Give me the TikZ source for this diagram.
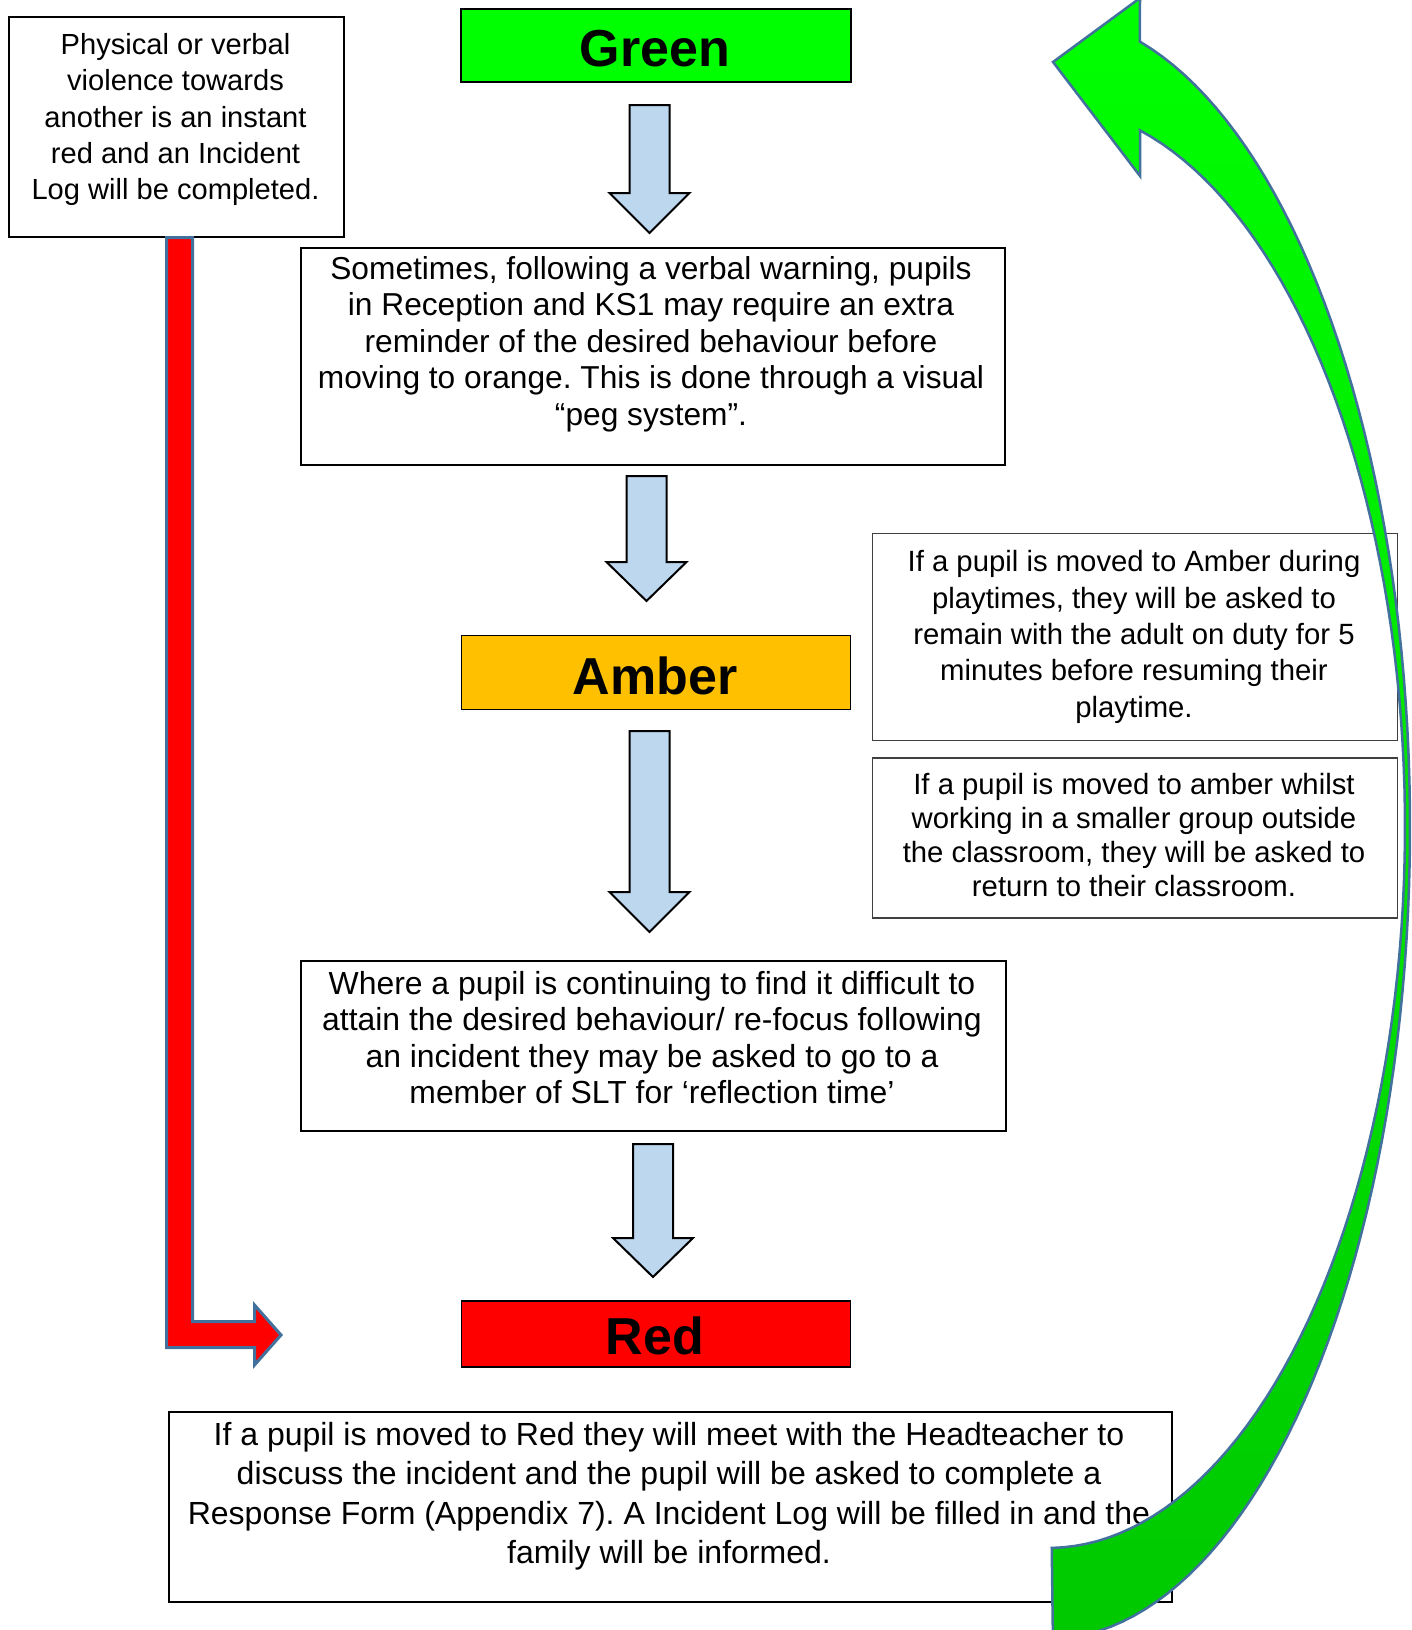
\documentclass[tikz,border=0pt]{standalone}
\usepackage{fontspec}
\setmainfont{Liberation Sans}
\frenchspacing
\newcommand\myfs[2]{\fontsize{#1pt}{#2pt}\selectfont}
\definecolor{boxgreen}{RGB}{0,255,0}
\definecolor{boxamber}{RGB}{255,192,0}
\definecolor{boxred}{RGB}{255,0,0}
\definecolor{arrowfill}{RGB}{189,215,238}
\definecolor{steel}{RGB}{65,113,156}
\definecolor{greentop}{RGB}{0,255,0}
\definecolor{greenbot}{RGB}{0,200,0}
\begin{document}
\begin{tikzpicture}[x=1pt,y=-1pt,
  box/.style={draw=black, line width=2pt, inner sep=0pt, anchor=north west, fill=white},
  sidebox/.style={draw=black!75, line width=1.5pt, inner sep=0pt, anchor=north west, fill=white},
  titlebox/.style={draw=black, line width=1.5pt, inner sep=0pt, anchor=north west},
  txt/.style={align=center, inner sep=0pt},
  ttl/.style={inner sep=0pt, font=\bfseries\myfs{52}{60}},
  blockarrow/.style={fill=arrowfill, draw=black, line width=2pt, line join=miter},
  redarrow/.style={fill=boxred, draw=steel, line width=3pt, line join=miter},
  greenarrow/.style={top color=greentop, bottom color=greenbot, draw=steel, line width=2.5pt, line join=miter}]
\useasboundingbox (0,0) rectangle (1411,1630);
\fill[white] (0,0) rectangle (1411,1630);

% boxes
\node[box, minimum width=335pt, minimum height=220pt] (viol) at (8,16) {};
\node[titlebox, fill=boxgreen, minimum width=390pt, minimum height=73pt] (green) at (460,8) {};
\node[box, minimum width=704pt, minimum height=217pt] (peg) at (299.5,246.5) {};
\node[titlebox, fill=boxamber, minimum width=389pt, minimum height=74pt] (amber) at (460.5,634.5) {};
\node[sidebox, minimum width=525pt, minimum height=207pt] (play) at (871.5,532.5) {};
\node[sidebox, minimum width=525pt, minimum height=160pt] (group) at (871.5,757) {};
\node[box, minimum width=705pt, minimum height=170pt] (slt) at (299.5,960) {};
\node[titlebox, fill=boxred, minimum width=389pt, minimum height=66pt] (red) at (460.5,1300) {};
\node[box, minimum width=1003pt, minimum height=190pt] (head) at (167.5,1411) {};

% texts
\node[txt, font=\myfs{29.1}{36.1}] (violt) at (175.5,119.5) {Physical or verbal\\violence towards\\another is an instant\\red and an Incident\\Log will be completed.};
\node[ttl] (greent) at (655,49) {Green};
\node[txt, font=\myfs{31.7}{36.4}] (pegt) at (651,344) {Sometimes, following a verbal warning, pupils\\in Reception and KS1 may require an extra\\reminder of the desired behaviour before\\moving to orange. This is done through a visual\\“peg system”.};
\node[ttl] (ambert) at (655,676) {Amber};
\node[txt, font=\myfs{29.3}{36.4}] (playt) at (1134,637) {If a pupil is moved to Amber during\\playtimes, they will be asked to\\remain with the adult on duty for 5\\minutes before resuming their\\playtime.};
\node[txt, font=\myfs{29.3}{34.3}] (groupt) at (1134,835) {If a pupil is moved to amber whilst\\working in a smaller group outside\\the classroom, they will be asked to\\return to their classroom.};
\node[txt, font=\myfs{31.9}{36.4}] (sltt) at (652,1037.5) {Where a pupil is continuing to find it difficult to\\attain the desired behaviour/ re-focus following\\an incident they may be asked to go to a\\member of SLT for ‘reflection time’};
\node[ttl] (redt) at (655,1336) {Red};
\node[txt, font=\myfs{32}{39.5}] (headt) at (669,1496) {If a pupil is moved to Red they will meet with the Headteacher to\\discuss the incident and the pupil will be asked to complete a\\Response Form (Appendix 7). A Incident Log will be filled in and the\\family will be informed.};

% block arrows
\newcommand\dnarrow[4]{% cx, top, base, tip
  \draw[blockarrow] (#1-20,#2) -- (#1+20,#2) -- (#1+20,#3) -- (#1+40,#3) -- (#1,#4) -- (#1-40,#3) -- (#1-20,#3) -- cycle;}
\dnarrow{649.5}{105}{193}{233}
\dnarrow{646.5}{476}{562}{601}
\dnarrow{649.5}{731}{892}{932}
\dnarrow{653}{1144}{1238}{1277}

% red L arrow
\draw[redarrow] (166.5,237.5) -- (192.5,237.5) -- (192.5,1321.5) -- (254.5,1321.5) -- (254.5,1305) -- (281,1335) -- (254.5,1365) -- (254.5,1347.5) -- (166.5,1347.5) -- cycle;

% green curved arrow
\begin{scope}
\clip (0,0) rectangle (1411,1630);
\draw[greenarrow] (1140,-2) -- (1053,62) -- (1140,176) -- (1140,131)
  -- plot[domain=-75.07:89.4, samples=90, variable=\ang] ({1048+357*cos(\ang)},{827+721*sin(\ang)})
  -- (1053,1645)
  -- plot[domain=89.2:-75.3, samples=90, variable=\ang] ({1048+362*cos(\ang)},{827+812*sin(\ang)})
  -- cycle;
\end{scope}
\end{tikzpicture}
\end{document}
